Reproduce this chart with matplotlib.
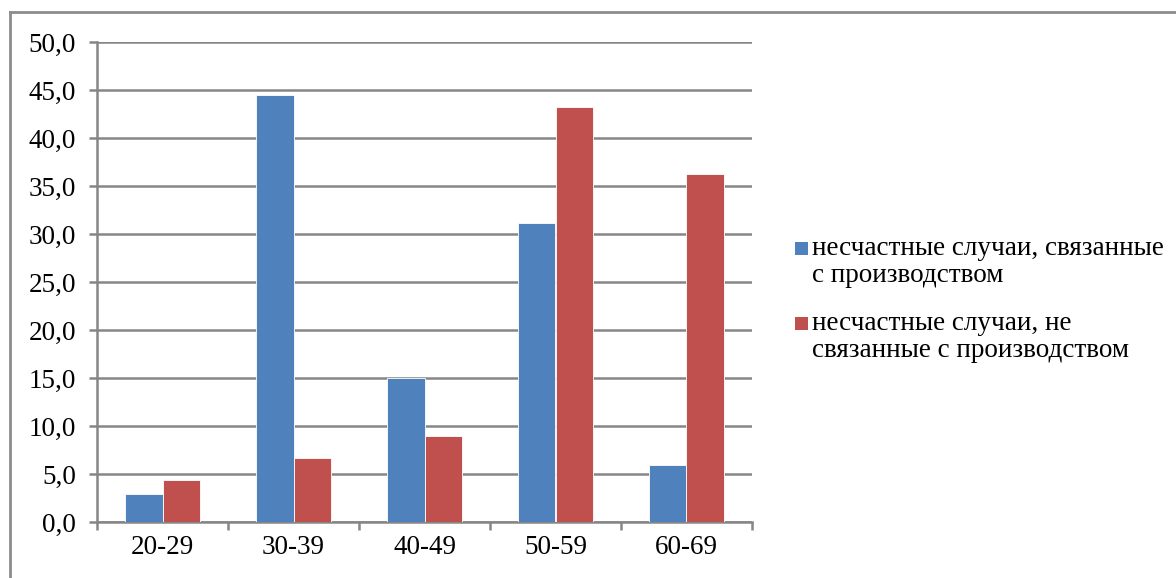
import numpy as np
import matplotlib
matplotlib.use("Agg")
import matplotlib.pyplot as plt
from matplotlib.lines import Line2D
from matplotlib.patches import Rectangle

plt.rcParams['font.family'] = ['Liberation Serif', 'DejaVu Serif']

age_groups = ['20-29', '30-39', '40-49', '50-59', '60-69']
work_related = [2.9, 44.5, 15.0, 31.1, 5.9]
non_work_related = [4.4, 6.7, 9.0, 43.2, 36.3]
series_names = ['несчастные случаи, связанные\nс производством',
                'несчастные случаи, не\nсвязанные с производством']
colors = ['#4F81BD', '#C0504D']

W, H = 1176, 578
fig = plt.figure(figsize=(W / 100, H / 100), dpi=100)
ax = fig.add_axes([97 / W, 1 - 522 / H, 655 / W, 480 / H])

x = np.arange(len(age_groups))
w = 0.283
ax.bar(x - w / 2, work_related, w, color=colors[0], edgecolor='white', linewidth=0.6, zorder=3)
ax.bar(x + w / 2, non_work_related, w, color=colors[1], edgecolor='white', linewidth=0.6, zorder=3)

ax.set_xlim(-0.5, len(age_groups) - 0.5)
ax.set_ylim(0, 50)
ax.set_yticks(np.arange(0, 51, 5))
ax.set_yticklabels([f'{v:.1f}'.replace('.', ',') for v in np.arange(0, 51, 5)], fontsize=19.5)
ax.yaxis.grid(True, color='#868686', linewidth=1.8, zorder=0)

# category labels in the middle, tick marks on the boundaries
ax.set_xticks(x)
ax.set_xticklabels(age_groups, fontsize=19.5)
ax.tick_params(axis='x', length=0, pad=9)
ax.set_xticks(np.arange(-0.5, len(age_groups)), minor=True)
ax.tick_params(axis='x', which='minor', length=6, width=1.8, color='#868686', direction='out')
ax.tick_params(axis='y', length=6, width=1.8, color='#868686', pad=9)

for side in ['top', 'right']:
    ax.spines[side].set_visible(False)
for side in ['left', 'bottom']:
    ax.spines[side].set_color('#868686')
    ax.spines[side].set_linewidth(1.8)

# outer chart frame
fig.add_artist(Line2D([10 / W, 10 / W], [0, 1 - 12 / H], color='#8c8c8c', linewidth=2))
fig.add_artist(Line2D([10 / W, 1], [1 - 12 / H, 1 - 12 / H], color='#8c8c8c', linewidth=2))

# legend: square marker next to the first line of each wrapped label
for i, (name, c) in enumerate(zip(series_names, colors)):
    top = 236 + i * 75
    fig.add_artist(Rectangle((795 / W, 1 - (top + 19) / H), 13 / W, 13 / H,
                             facecolor=c, edgecolor='none', transform=fig.transFigure))
    fig.text(812 / W, 1 - top / H, name, fontsize=19.5, va='top', ha='left', linespacing=1.08)

fig.savefig('out.png', dpi=100)
